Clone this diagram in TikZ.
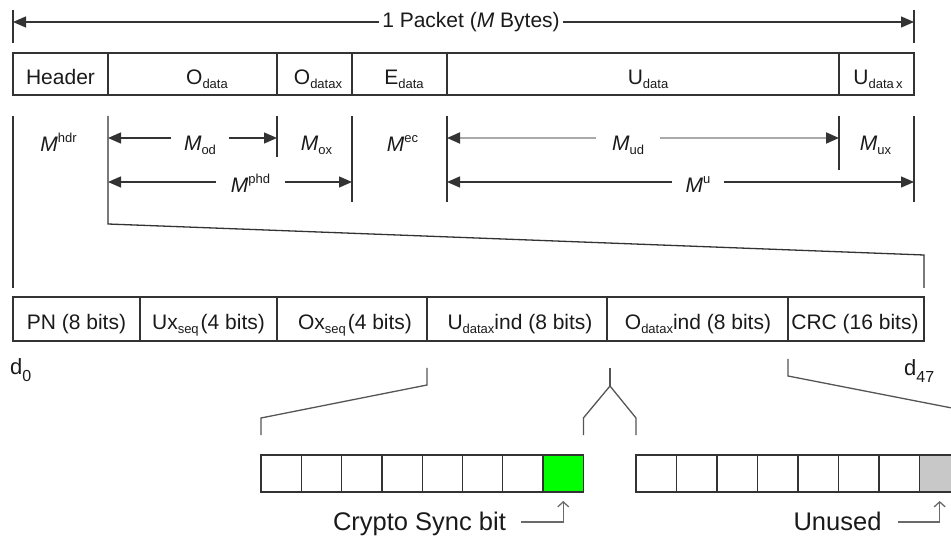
\documentclass[tikz,border=0pt]{standalone}
\usepackage{fontspec}
\setmainfont{Liberation Sans}
\usetikzlibrary{arrows.meta,calc}
\definecolor{ink}{HTML}{1A1A1A}
\definecolor{ln}{HTML}{333333}
\definecolor{br}{HTML}{555555}
\definecolor{gl}{HTML}{AAAAAA}
\definecolor{pg}{HTML}{6A6A6A}
\definecolor{bitgreen}{HTML}{00FF00}
\definecolor{bitgray}{HTML}{C8C8C8}
\newcommand{\lo}[1]{\raisebox{-4pt}{\fontsize{13}{13}\selectfont #1}}
\newcommand{\hi}[1]{\raisebox{9.5pt}{\fontsize{13}{13}\selectfont #1}}
\newcommand{\Mi}{{\itshape M}}
\newcommand{\dsub}[1]{\raisebox{-7pt}{\fontsize{16}{16}\selectfont #1}}
\begin{document}
\begin{tikzpicture}[x=1pt,y=-1pt,
  font=\fontsize{21}{25}\selectfont, text=ink,
  ln/.style={draw=ln, line width=1.3pt},
  cell/.style={draw=ln, line width=1.3pt, rectangle, anchor=north west, inner sep=0pt, outer sep=0pt},
  lbl/.style={anchor=base, inner sep=0pt},
  dim/.style={draw=ln, line width=1.3pt, {Triangle[length=13pt,width=11pt]}-{Triangle[length=13pt,width=11pt]}},
  gdim/.style={draw=gl, line width=1.8pt, {Triangle[length=13pt,width=11pt,color=ln]}-{Triangle[length=13pt,width=11pt,color=ln]}},
  mask/.style={anchor=base, fill=white, inner ysep=3pt, inner xsep=#1},
  bk/.style={draw=br, line width=1.3pt},
  bit/.style={draw=ln, line width=1.3pt, rectangle, anchor=north west, minimum width=40.3pt, minimum height=37pt, inner sep=0pt, outer sep=0pt},
  note/.style={anchor=base, inner sep=0pt, font=\fontsize{25.5}{30}\selectfont},
  ptr/.style={draw=pg, line width=1.3pt, -{Straight Barb[length=5pt,width=11pt]}},
  dl/.style={anchor=base west, inner sep=0pt, font=\fontsize{22}{26}\selectfont}]
\useasboundingbox (0,0) rectangle (951,537);
\clip (0,0) rectangle (951,537);

% packet span arrow
\draw[ln] (13,10) -- (13,43);
\draw[ln] (914,10) -- (914,43);
\coordinate (pl) at (13,22);
\coordinate (pr) at (914,22);
\draw[dim] (pl) -- (pr);
\node[mask=3pt] (pk) at (471,28) {1 Packet (\Mi\ Bytes)};

% top row of fields
\node[cell, minimum width=95pt,  minimum height=42pt] (hdr) at (13,53) {};
\node[cell, minimum width=169pt, minimum height=42pt] (od)  at (108,53) {};
\node[cell, minimum width=75pt,  minimum height=42pt] (ox)  at (277,53) {};
\node[cell, minimum width=95pt,  minimum height=42pt] (ed)  at (352,53) {};
\node[cell, minimum width=392pt, minimum height=42pt] (ud)  at (447,53) {};
\node[cell, minimum width=75pt,  minimum height=42pt] (ux)  at (839,53) {};
\node[lbl] (thdr) at (60.5,85) {Header};
\node[lbl] (tod)  at (207,85) {O\lo{data}};
\node[lbl] (tox)  at (318,85) {O\lo{datax}};
\node[lbl] (ted)  at (404,85) {E\lo{data}};
\node[lbl] (tud)  at (648,85) {U\lo{data}};
\node[lbl] (tux)  at (878,85) {U\lo{data\,x}};

% dimension ticks
\draw[ln] (13,116) -- (13,288);
\draw[ln] (108,116) -- (108,224) -- (924,255) -- (924,288);
\draw[ln] (277,116) -- (277,157);
\draw[ln] (352,116) -- (352,202);
\draw[ln] (447,116) -- (447,202);
\draw[ln] (839,116) -- (839,170);
\draw[ln] (914,116) -- (914,202);

% dimension arrows
\coordinate (a1) at (108,138); \coordinate (a2) at (277,138);
\draw[dim] (a1) -- (a2);
\node[mask=13pt] (mod) at (200,151) {\Mi\lo{od}};
\coordinate (a3) at (108,182); \coordinate (a4) at (352,182);
\draw[dim] (a3) -- (a4);
\node[mask=15pt] (mphd) at (250.5,193) {\Mi\hi{phd}};
\coordinate (a5) at (447,138); \coordinate (a6) at (839,138);
\draw[gdim] (a5) -- (a6);
\node[mask=16pt] (mud) at (628,151) {\Mi\lo{ud}};
\coordinate (a7) at (447,182); \coordinate (a8) at (914,182);
\draw[dim] (a7) -- (a8);
\node[mask=14pt] (mu) at (698,193) {\Mi\hi{u}};
\node[lbl] (mhdr) at (58.5,152) {\Mi\hi{hdr}};
\node[lbl] (mox)  at (316.5,151) {\Mi\lo{ox}};
\node[lbl] (mec)  at (402.5,152) {\Mi\hi{ec}};
\node[lbl] (mux)  at (875.5,151) {\Mi\lo{ux}};

% header fields row
\node[cell, minimum width=127pt, minimum height=44pt] (pn)  at (13,297) {};
\node[cell, minimum width=137pt, minimum height=44pt] (uxs) at (140,297) {};
\node[cell, minimum width=150pt, minimum height=44pt] (oxs) at (277,297) {};
\node[cell, minimum width=180pt, minimum height=44pt] (udi) at (427,297) {};
\node[cell, minimum width=181pt, minimum height=44pt] (odi) at (607,297) {};
\node[cell, minimum width=136pt, minimum height=44pt] (crc) at (788,297) {};
\node[lbl] (tpn)  at (76.5,330) {PN (8 bits)};
\node[lbl] (tuxs) at (208.5,330) {Ux\lo{seq}\hspace{2pt}(4 bits)};
\node[lbl] (toxs) at (355,330) {Ox\lo{seq}\hspace{2pt}(4 bits)};
\node[lbl] (tudi) at (520,330) {U\lo{datax}ind (8 bits)};
\node[lbl] (todi) at (698,330) {O\lo{datax}ind (8 bits)};
\node[lbl] (tcrc) at (855,330) {CRC (16 bits)};
\node[dl] (d0)  at (10,375) {d\dsub{0}};
\node[dl] (d47) at (904,376) {d\dsub{47}};

% bit cells
\foreach \i in {1,...,7} { \node[bit] (b\i) at ({261+(\i-1)*40.3},455) {}; }
\node[bit, fill=bitgreen] (b8) at ({261+7*40.3},455) {};
\foreach \i in {1,...,7} { \node[bit] (c\i) at ({636+(\i-1)*40.5},455) {}; }
\node[bit, fill=bitgray] (c8) at ({636+7*40.5},455) {};

% brackets
\coordinate (r1) at (0,368);
\coordinate (r2) at (0,385);
\coordinate (r3) at (0,418);
\coordinate (r4) at (0,435);
\draw[bk] (udi.south west |- r1) -- (udi.south west |- r2) -- (b1.north west |- r3) -- (b1.north west |- r4);
\coordinate (fk1) at (610,368);
\coordinate (fk2) at (610,386);
\draw[bk] (fk1) -- (fk2);
\draw[bk] (b8.north east |- r4) -- (b8.north east |- r3) -- (fk2) -- (c1.north west |- r3) -- (c1.north west |- r4);
\coordinate (cr1) at (788,359);
\coordinate (cr2) at (788,376);
\coordinate (cr3) at (1000,417.4);
\draw[bk] (cr1) -- (cr2) -- (cr3);

% notes
\node[note] (cs) at (419.5,530) {Crypto Sync bit};
\node[note] (un) at (837.5,530) {Unused};
\draw[ptr] ($(cs.base east)+(15,-8)$) -| ([yshift=-9pt]b8.south);
\draw[ptr] ($(un.base east)+(16,-8)$) -| ([yshift=-9pt]c8.south);
\end{tikzpicture}
\end{document}
